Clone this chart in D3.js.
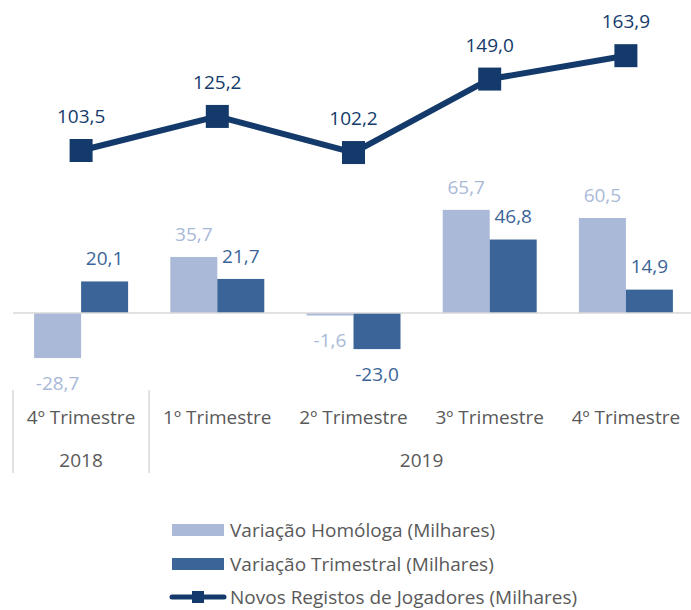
<!DOCTYPE html>
<html>
<head lang="pt">
    <meta charset="UTF-8">
    <title>Registos de Jogadores</title>
    <script type="text/javascript" src="https://cdn.jsdelivr.net/npm/d3@7/dist/d3.min.js"></script>
    <style>
        body { margin: 0; background: #fff; }
        text { font-family: "Open Sans", sans-serif; }
    </style>
</head>
<body>
<svg width="691" height="610"></svg>

<script>
    // data
    var quarters = ["4º Trimestre", "1º Trimestre", "2º Trimestre", "3º Trimestre", "4º Trimestre"];
    var years = [{label: "2018", from: 0, to: 1}, {label: "2019", from: 1, to: 5}];
    var homologa = [-28.7, 35.7, -1.6, 65.7, 60.5];
    var trimestral = [20.1, 21.7, -23.0, 46.8, 14.9];
    var registos = [103.5, 125.2, 102.2, 149.0, 163.9];
    var seriesNames = ["Variação Homóloga (Milhares)", "Variação Trimestral (Milhares)", "Novos Registos de Jogadores (Milhares)"];

    var light = "#a9b9d7", dark = "#3b6598", navy = "#143a6b", grey = "#595959";
    var fs = 19;
    var fmt = function (v) { return v.toFixed(1).replace(".", ","); };

    var svg = d3.select("svg");
    var idx = d3.range(quarters.length);

    var x0 = d3.scaleBand().domain(idx).range([13, 694]).padding(0);
    var groupW = 94;
    var x1 = d3.scaleBand().domain([0, 1]).range([0, groupW]);
    var y = d3.scaleLinear().domain([-40, 180]).range([313 + 40 * 1.57, 313 - 180 * 1.57]);

    function gx(i) { return x0(i) + (x0.bandwidth() - groupW) / 2; }

    // bars
    var bars = [homologa, trimestral];
    var colors = [light, dark];
    bars.forEach(function (vals, s) {
        svg.append("g").selectAll("rect").data(vals).enter().append("rect")
            .attr("x", function (d, i) { return gx(i) + x1(s); })
            .attr("width", x1.bandwidth())
            .attr("y", function (d) { return y(Math.max(0, d)); })
            .attr("height", function (d) { return Math.abs(y(d) - y(0)); })
            .attr("fill", colors[s]);

        svg.append("g").selectAll("text").data(vals).enter().append("text")
            .attr("x", function (d, i) { return gx(i) + x1(s) + x1.bandwidth() / 2; })
            .attr("y", function (d) { return d >= 0 ? y(d) - 23 : y(d) + 25; })
            .attr("dy", "0.35em")
            .attr("text-anchor", "middle")
            .attr("font-size", fs)
            .attr("fill", colors[s])
            .text(fmt);
    });

    // zero line
    svg.append("line")
        .attr("x1", 13).attr("x2", 691)
        .attr("y1", y(0)).attr("y2", y(0))
        .attr("stroke", "#d9d9d9").attr("stroke-width", 1.5);

    // line series
    var cx = function (d, i) { return x0(i) + x0.bandwidth() / 2; };
    var line = d3.line().x(cx).y(function (d) { return y(d); });
    svg.append("path").datum(registos)
        .attr("d", line)
        .attr("fill", "none")
        .attr("stroke", navy)
        .attr("stroke-width", 6)
        .attr("stroke-linejoin", "round");

    svg.append("g").selectAll("rect").data(registos).enter().append("rect")
        .attr("x", function (d, i) { return cx(d, i) - 11.5; })
        .attr("y", function (d) { return y(d) - 11.5; })
        .attr("width", 23).attr("height", 23)
        .attr("fill", navy);

    svg.append("g").selectAll("text").data(registos).enter().append("text")
        .attr("x", cx)
        .attr("y", function (d) { return y(d) - 34; })
        .attr("dy", "0.35em")
        .attr("text-anchor", "middle")
        .attr("font-size", fs)
        .attr("fill", navy)
        .text(fmt);

    // category axis
    var axis = svg.append("g");
    axis.selectAll("text.q").data(quarters).enter().append("text")
        .attr("class", "q")
        .attr("x", function (d, i) { return x0(i) + x0.bandwidth() / 2; })
        .attr("y", 417)
        .attr("dy", "0.35em")
        .attr("text-anchor", "middle")
        .attr("font-size", fs)
        .attr("fill", grey)
        .text(function (d) { return d; });

    axis.selectAll("text.y").data(years).enter().append("text")
        .attr("class", "y")
        .attr("x", function (d) { return (x0(d.from) + x0(d.to - 1) + x0.bandwidth()) / 2; })
        .attr("y", 460)
        .attr("dy", "0.35em")
        .attr("text-anchor", "middle")
        .attr("font-size", fs)
        .attr("fill", grey)
        .text(function (d) { return d.label; });

    axis.selectAll("line").data([0, 1]).enter().append("line")
        .attr("x1", function (d) { return x0(d); })
        .attr("x2", function (d) { return x0(d); })
        .attr("y1", 390).attr("y2", 473)
        .attr("stroke", "#d9d9d9").attr("stroke-width", 1.5);

    // legend
    var lg = svg.append("g").attr("transform", "translate(172,0)");
    var rows = [530, 564, 597];
    rows.forEach(function (ry, k) {
        if (k < 2) {
            lg.append("rect").attr("x", 0).attr("y", ry - 6).attr("width", 52).attr("height", 12)
                .attr("fill", colors[k]);
        } else {
            lg.append("line").attr("x1", 0).attr("x2", 52).attr("y1", ry).attr("y2", ry)
                .attr("stroke", navy).attr("stroke-width", 5).attr("stroke-linecap", "round");
            lg.append("rect").attr("x", 20).attr("y", ry - 6).attr("width", 12).attr("height", 12)
                .attr("fill", navy);
        }
        lg.append("text").attr("x", 58).attr("y", ry).attr("dy", "0.35em")
            .attr("font-size", fs).attr("fill", grey)
            .text(seriesNames[k]);
    });
</script>
</body>
</html>
